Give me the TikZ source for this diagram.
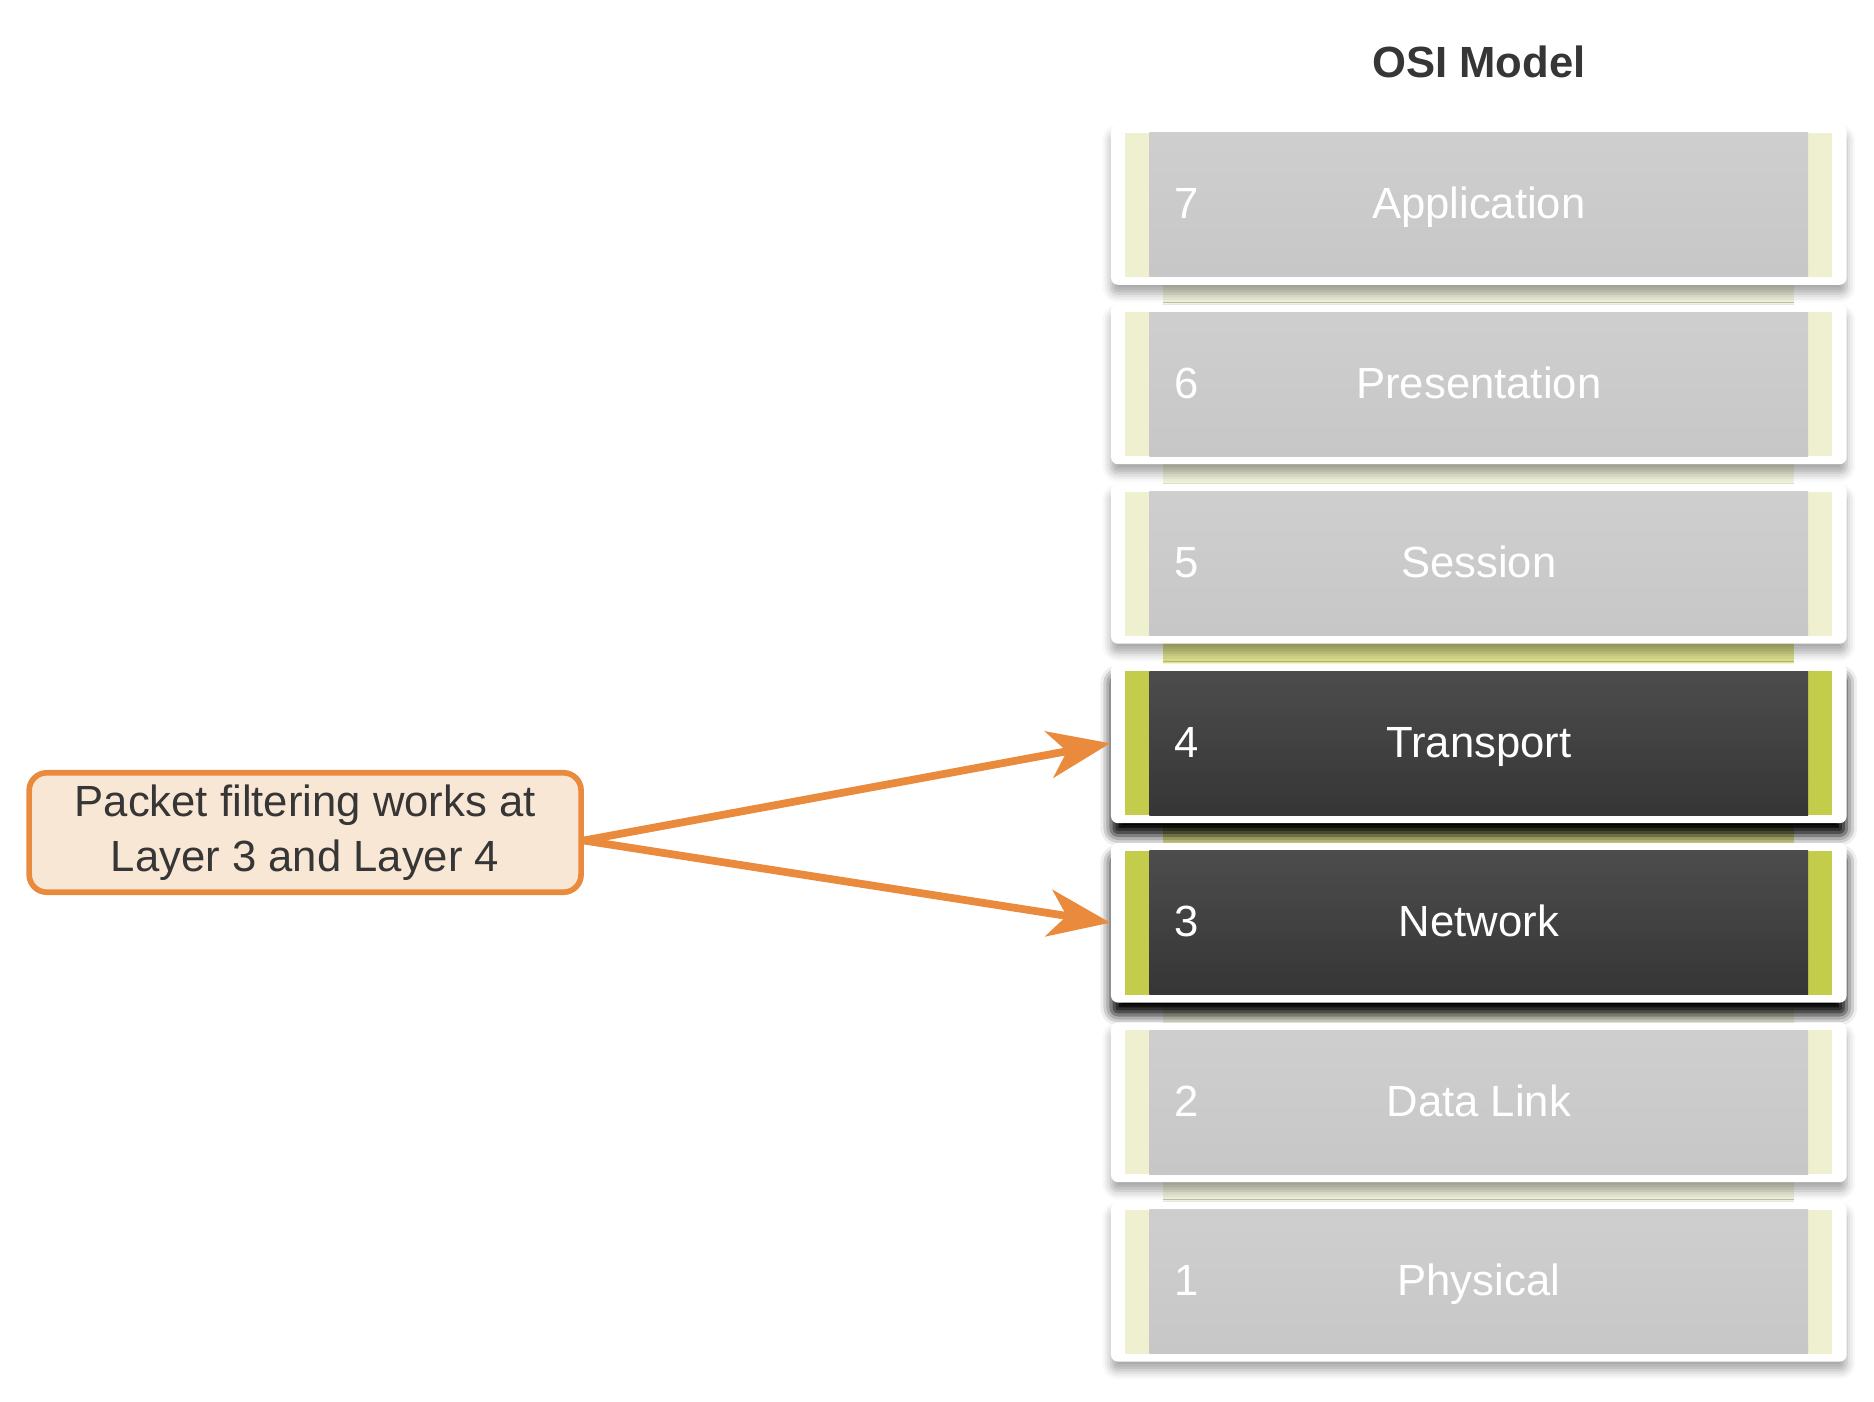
\documentclass[tikz,border=0pt]{standalone}
\usepackage{fontspec}
\setmainfont{Liberation Sans}
\usepackage{xcolor}
\usepackage{tikz}
\usetikzlibrary{arrows.meta, shadows.blur, backgrounds}
\definecolor{pforange}{HTML}{E98A3C}
\definecolor{pffill}{HTML}{F9E7D6}
\definecolor{textdark}{HTML}{363636}
\definecolor{stripidle}{HTML}{EEF0CF}
\definecolor{stripactive}{HTML}{C3CD4B}
\definecolor{linkidle}{HTML}{F1F3DD}
\definecolor{linkactive}{HTML}{DCE18C}
\newcommand\layerfont{\fontsize{12.4}{15.7}\selectfont}
\tikzset{every picture/.style={x=0.012cm, y=-0.012cm},
  card/.style={rectangle, rounded corners=2pt, fill=white, inner sep=0pt,
    minimum width=7.344cm, minimum height=1.596cm},
  cardidle/.style={card, blur shadow={shadow xshift=0pt, shadow yshift=-2.5pt,
    shadow blur radius=2.5pt, shadow opacity=35}},
  cardactive/.style={card, blur shadow={shadow xshift=0pt, shadow yshift=-3.5pt,
    shadow blur radius=3pt, shadow opacity=100}},
  strip/.style={rectangle, inner sep=0pt, minimum width=7.056cm, minimum height=1.44cm},
  stripidle/.style={strip, fill=stripidle},
  stripactive/.style={strip, fill=stripactive},
  body/.style={rectangle, inner sep=0pt, minimum width=6.576cm, minimum height=1.44cm,
    text=white, font=\layerfont, text height=0.8em, text depth=0pt},
  bodyidle/.style={body, top color=black!19, bottom color=black!22},
  bodyactive/.style={body, top color=black!70, bottom color=black!79},
  num/.style={anchor=west, inner sep=0pt, text=white, font=\layerfont,
    text height=0.8em, text depth=0pt},
  linkidle/.style={fill=linkidle},
  linkactive/.style={fill=linkactive},
  title/.style={text=textdark, font=\layerfont\bfseries, text height=0.8em, text depth=0pt},
  callout/.style={rectangle, draw=pforange, line width=1.6pt, fill=pffill, rounded corners=5pt,
    minimum width=5.51cm, minimum height=1.12cm, align=center, text=textdark, font=\layerfont},
  pfarrow/.style={draw=pforange, line width=2.2pt,
    -{Stealth[length=0.62cm, width=0.47cm, inset=0.18cm]}}}

\begin{document}
\begin{tikzpicture}
        \useasboundingbox (0,0) rectangle (1560,1167);

        \node[title] (osi) at (1231, 53) {OSI Model};

        \foreach \n/\name/\kind in {7/Application/idle, 6/Presentation/idle, 5/Session/idle,
          4/Transport/active, 3/Network/active, 2/Data Link/idle, 1/Physical/idle} {
          \node[card\kind] (l\n) at (1231, {170.5+(7-\n)*149.4}) {};
          \node[strip\kind] (s\n) at (l\n.center) {};
          \node[body\kind] (b\n) at (l\n.center) {\name};
          \node[num] (k\n) at ([xshift=0.25cm]b\n.west) {\n};
        }

        \begin{pgfonlayer}{background}
          \foreach \from/\to/\kind in {
            l7/l6/idle, l6/l5/idle, l5/l4/active,
            l4/l3/active, l3/l2/idle, l2/l1/idle}
          \fill[link\kind] ([xshift=-3.15cm]\from.center) rectangle ([xshift=3.15cm]\to.center);
        \end{pgfonlayer}

        \node[callout] (pf) at (254, 693) {Packet filtering works at\\Layer 3 and Layer 4};

        \foreach \to in {l4, l3}
        \draw[pfarrow] ([yshift=-0.08cm]pf.east) -- (\to.west);
      \end{tikzpicture}
\end{document}
